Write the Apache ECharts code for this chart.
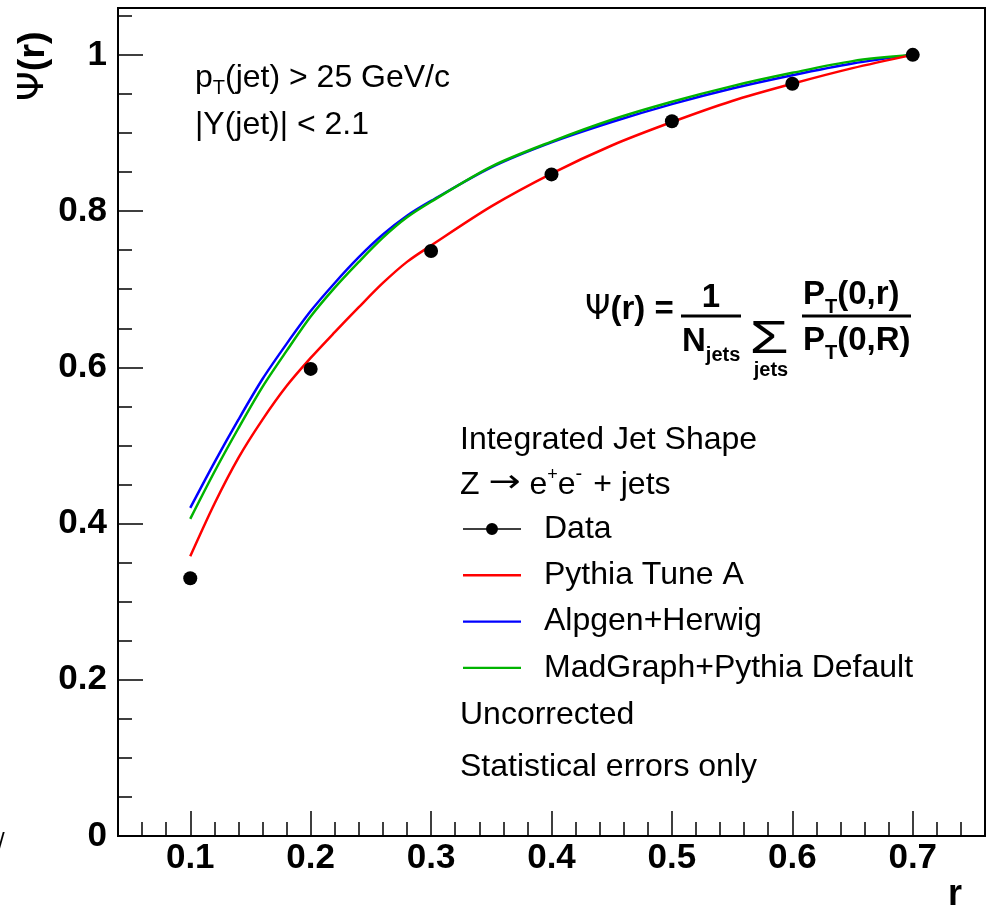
<!DOCTYPE html>
<html>
<head>
<meta charset="utf-8">
<script src="https://cdn.jsdelivr.net/npm/echarts@6/dist/echarts.min.js"></script>
<style>html,body{margin:0;padding:0;background:#fff}#c{width:990px;height:910px}</style>
</head>
<body>
<div id="c"></div>
<script>
// ---------- data ----------
const xTicks = [0.1, 0.2, 0.3, 0.4, 0.5, 0.6, 0.7];
const yTicks = [0, 0.2, 0.4, 0.6, 0.8, 1];
const dataR = [0.1, 0.2, 0.3, 0.4, 0.5, 0.6, 0.7];
const dataPsi = [0.330, 0.598, 0.749, 0.847, 0.915, 0.963, 1.000];
const curveR = [0.10, 0.12, 0.14, 0.16, 0.18, 0.20, 0.22, 0.24, 0.26, 0.28, 0.30, 0.35, 0.40, 0.45, 0.50, 0.55, 0.60, 0.65, 0.70];
const pythiaA = [0.358, 0.425, 0.484, 0.533, 0.576, 0.612, 0.645, 0.677, 0.708, 0.735, 0.756, 0.806, 0.848, 0.884, 0.914, 0.941, 0.963, 0.983, 1.000];
const alpgen  = [0.420, 0.478, 0.533, 0.585, 0.630, 0.672, 0.708, 0.741, 0.770, 0.794, 0.813, 0.856, 0.888, 0.914, 0.937, 0.957, 0.974, 0.989, 1.000];
const madgraph= [0.406, 0.466, 0.522, 0.575, 0.621, 0.665, 0.702, 0.735, 0.766, 0.792, 0.812, 0.857, 0.889, 0.917, 0.940, 0.960, 0.977, 0.992, 1.000];
const seriesNames = ['Data', 'Pythia Tune A', 'Alpgen+Herwig', 'MadGraph+Pythia Default'];

// ---------- helpers ----------
const FF = '"Liberation Sans", Arial, "DejaVu Sans", sans-serif';
const mctx = document.createElement('canvas').getContext('2d');
function tw(s, size, bold, fam) {
  mctx.font = (bold ? 'bold ' : '') + size + 'px ' + (fam || '"Liberation Sans"');
  return mctx.measureText(s).width;
}
function runs(x, y, parts, bold) {
  const out = [];
  let cx = x;
  parts.forEach(p => {
    const size = p.s || 32;
    const b = p.b !== undefined ? p.b : bold;
    const sx = p.sx || 1;
    out.push({
      type: 'text', x: cx, y: y + (p.dy || 0), z: 100, scaleX: sx,
      style: { text: p.t, fontSize: size, fontWeight: b ? 'bold' : 'normal', fontFamily: p.f || FF, fill: '#000', align: 'left', verticalAlign: 'middle' }
    });
    cx += tw(p.t, size, b, p.f) * sx + (p.gap || 0);
  });
  return out;
}
function txt(x, y, t, size, bold, align, extra) {
  return Object.assign({
    type: 'text', x: x, y: y, z: 100,
    style: { text: t, fontSize: size, fontWeight: bold ? 'bold' : 'normal', fontFamily: FF, fill: '#000', align: align || 'left', verticalAlign: 'middle' }
  }, extra || {});
}
function ln(x1, y1, x2, y2, w) {
  return { type: 'line', z: 100, shape: { x1, y1, x2, y2 }, style: { stroke: '#000', lineWidth: w || 2 } };
}
function pairs(xs, ys) { return xs.map((x, i) => [x, ys[i]]); }

// ---------- annotations ----------
let graphics = [];
graphics = graphics.concat(runs(195, 78, [{ t: 'p' }, { t: 'T', s: 20, dy: 10 }, { t: '(jet) > 25 GeV/c' }], false));
graphics.push(txt(195, 125, '|Y(jet)| < 2.1', 32, false));
// formula
graphics = graphics.concat(runs(585, 310, [{ t: 'Ψ', s: 34, b: false, f: '"DejaVu Sans"', sx: 0.95 }, { t: '(r) =', s: 33 }], true));
graphics.push(txt(711, 298, '1', 33, true, 'center'));
graphics.push(ln(681, 316, 741, 316, 3));
graphics = graphics.concat(runs(682, 342, [{ t: 'N', s: 33 }, { t: 'jets', s: 20, dy: 13 }], true));
graphics.push({ type: 'text', x: 769, y: 340, z: 100, scaleX: 1.35,
  style: { text: 'Σ', fontSize: 47, fontFamily: FF, fill: '#000', align: 'center', verticalAlign: 'middle' } });
graphics.push(txt(771, 370, 'jets', 20, true, 'center'));
graphics = graphics.concat(runs(803, 295, [{ t: 'P', s: 33 }, { t: 'T', s: 20, dy: 12 }, { t: '(0,r)', s: 33 }], true));
graphics.push(ln(802, 316, 911, 316, 3));
graphics = graphics.concat(runs(803, 341, [{ t: 'P', s: 33 }, { t: 'T', s: 20, dy: 12 }, { t: '(0,R)', s: 33 }], true));
// legend header / footer texts
graphics.push(txt(460, 440, 'Integrated Jet Shape', 32, false));
graphics = graphics.concat(runs(460, 485, [{ t: 'Z ' }, { t: '→', s: 32, f: '"DejaVu Sans"', sx: 1.2, dy: -1 }, { t: ' e' }, { t: '+', s: 18, dy: -10 }, { t: 'e' }, { t: '-', s: 20, dy: -11, gap: 2 }, { t: ' + jets' }], false));
graphics.push(txt(460, 715, 'Uncorrected', 32, false));
graphics.push(txt(460, 767, 'Statistical errors only', 32, false));
// axis titles
graphics = graphics.concat([
  { type: 'text', x: 34, y: 101, rotation: Math.PI / 2, z: 100, scaleX: 1.05,
    style: { text: 'Ψ', fontSize: 36, fontFamily: '"DejaVu Sans"', fill: '#000', align: 'left', verticalAlign: 'middle' } },
  { type: 'text', x: 34, y: 101 - tw('Ψ', 36, false, '"DejaVu Sans"') * 1.05, rotation: Math.PI / 2, z: 100, scaleX: 1.05,
    style: { text: '(r)', fontSize: 36, fontWeight: 'bold', fontFamily: FF, fill: '#000', align: 'left', verticalAlign: 'middle' } }
]);
graphics.push(txt(948, 895, 'r', 36, true));
graphics.push(txt(-2, 842, '/', 24, false));

// ---------- chart ----------
const chart = echarts.init(document.getElementById('c'), null, { renderer: 'canvas' });
const axisCommon = { min: 0.04, max: 0.76, type: 'value', splitLine: { show: false } };
const lineIcon = 'path://M0,0 L0.01,0 L0,0.01 Z M58,14 L57.99,14 L58,13.99 Z M0,5.8 L58,5.8 L58,8.2 L0,8.2 Z';
const dataIcon = 'path://M0,0 L0.01,0 L0,0.01 Z M58,14 L57.99,14 L58,13.99 Z M0,6.2 L58,6.2 L58,7.8 L0,7.8 Z M29,1 A6,6 0 1,1 28.99,1 Z';
const option = {
  animation: false,
  backgroundColor: '#fff',
  grid: { left: 118, right: 5, top: 8, bottom: 74, show: true, borderColor: '#000', borderWidth: 2, backgroundColor: 'transparent' },
  xAxis: [
    Object.assign({}, axisCommon, {
      interval: 0.02,
      axisLine: { show: true, onZero: false, lineStyle: { color: '#000', width: 2 } },
      axisTick: { show: true, inside: true, length: 14, lineStyle: { color: '#000', width: 1.5 } },
      axisLabel: {
        show: true, margin: 5, color: '#000', fontSize: 35, fontWeight: 'bold', fontFamily: FF,
        formatter: v => { const k = Math.round(v * 10); return (Math.abs(v * 10 - k) < 1e-6 && xTicks.some(t => Math.abs(t - v) < 1e-6)) ? (k / 10).toFixed(1) : ''; }
      }
    }),
    Object.assign({}, axisCommon, {
      position: 'bottom',
      axisLine: { show: false },
      axisTick: { show: true, inside: true, length: 25, customValues: xTicks, lineStyle: { color: '#000', width: 1.5 } },
      axisLabel: { show: false, customValues: xTicks }
    })
  ],
  yAxis: [
    {
      type: 'value', min: 0, max: 1.06, interval: 0.05, splitLine: { show: false },
      axisLine: { show: true, onZero: false, lineStyle: { color: '#000', width: 2 } },
      axisTick: { show: true, inside: true, length: 14, lineStyle: { color: '#000', width: 1.5 } },
      axisLabel: { show: false }
    },
    {
      type: 'value', min: 0, max: 1.06, interval: 0.2, position: 'left', splitLine: { show: false },
      axisLine: { show: false },
      axisTick: { show: true, inside: true, length: 25, lineStyle: { color: '#000', width: 1.5 } },
      axisLabel: {
        show: true, margin: 11, color: '#000', fontSize: 35, fontWeight: 'bold', fontFamily: FF,
        formatter: v => { if (v > 1.001 || !yTicks.some(t => Math.abs(t - v) < 1e-6)) return ''; return String(Math.round(v * 10) / 10); }
      }
    }
  ],
  legend: {
    orient: 'vertical', left: 458, top: 508, itemWidth: 58, itemHeight: 14, itemGap: 14.3,
    textStyle: { fontSize: 32, fontFamily: FF, color: '#000', lineHeight: 32, padding: [0, 0, 0, 18] },
    data: [
      { name: seriesNames[0], icon: dataIcon },
      { name: seriesNames[1], icon: lineIcon },
      { name: seriesNames[2], icon: lineIcon },
      { name: seriesNames[3], icon: lineIcon }
    ]
  },
  series: [
    { name: seriesNames[2], type: 'line', xAxisIndex: 0, yAxisIndex: 0, symbol: 'none', smooth: 0.3,
      lineStyle: { color: '#0000ff', width: 2.5 }, itemStyle: { color: '#0000ff' }, data: pairs(curveR, alpgen) },
    { name: seriesNames[3], type: 'line', xAxisIndex: 0, yAxisIndex: 0, symbol: 'none', smooth: 0.3,
      lineStyle: { color: '#00b400', width: 2.5 }, itemStyle: { color: '#00b400' }, data: pairs(curveR, madgraph) },
    { name: seriesNames[1], type: 'line', xAxisIndex: 0, yAxisIndex: 0, symbol: 'none', smooth: 0.3,
      lineStyle: { color: '#ff0000', width: 2.5 }, itemStyle: { color: '#ff0000' }, data: pairs(curveR, pythiaA) },
    { name: seriesNames[0], type: 'scatter', xAxisIndex: 0, yAxisIndex: 0, symbol: 'circle', symbolSize: 14,
      itemStyle: { color: '#000', opacity: 1 }, z: 5, data: pairs(dataR, dataPsi) }
  ],
  graphic: graphics
};
chart.setOption(option);
</script>
</body>
</html>
